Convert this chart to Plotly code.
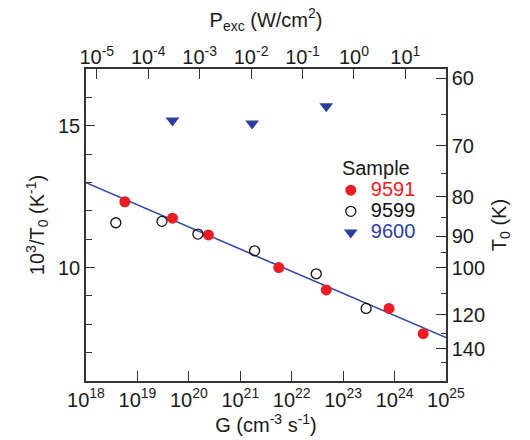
import plotly.graph_objects as go

# ---------------- data ----------------
# Sample 9591 (filled red circles)
g_9591 = [5.7e18, 4.8e19, 2.4e20, 5.6e21, 4.7e22, 7.8e23, 3.6e24]
v_9591 = [12.32, 11.74, 11.15, 10.00, 9.21, 8.56, 7.67]
# Sample 9599 (open black circles)
g_9599 = [3.8e18, 3.0e19, 1.5e20, 1.9e21, 3.0e22, 2.8e23]
v_9599 = [11.58, 11.63, 11.18, 10.59, 9.78, 8.56]
# Sample 9600 (blue down triangles)
g_9600 = [4.8e19, 1.7e21, 4.7e22]
v_9600 = [15.18, 15.08, 15.69]
# fitted line
g_fit = [1e18, 1e25]
v_fit = [12.99, 7.53]

# axis ticks
g_ticks = [1e18, 1e19, 1e20, 1e21, 1e22, 1e23, 1e24, 1e25]
g_tick_exp = ["18", "19", "20", "21", "22", "23", "24", "25"]
p_ticks = [1e-5, 1e-4, 1e-3, 1e-2, 1e-1, 1e0, 1e1]
p_tick_exp = ["-5", "-4", "-3", "-2", "-1", "0", "1"]
p_range_log = [-5.21, 1.79]
t0_major = [60, 70, 80, 90, 100, 120, 140]
t0_minor = [65, 75, 85, 95, 110, 130, 150]
y_range = [6, 17]

FONT = "Liberation Sans, Arial, sans-serif"
RED = "#ec1c24"
BLUE = "#2c3f9e"
LINE = "#3549a8"
AX = "#333333"
TXT = "#1a1a1a"

fig = go.Figure()
fig.add_trace(go.Scatter(x=g_fit, y=v_fit, mode="lines",
                         line=dict(color=LINE, width=1.6),
                         showlegend=False, hoverinfo="skip"))
fig.add_trace(go.Scatter(x=g_9591, y=v_9591, mode="markers",
                         name=f"<span style='font-size:20px;color:{RED}'>9591</span>",
                         marker=dict(symbol="circle", size=11, color=RED)))
fig.add_trace(go.Scatter(x=g_9599, y=v_9599, mode="markers",
                         name="<span style='font-size:20px;color:#111'>9599</span>",
                         marker=dict(symbol="circle-open", size=10, color="#111",
                                     line=dict(width=1.3, color="#111"))))
fig.add_trace(go.Scatter(x=g_9600, y=v_9600, mode="markers",
                         name=f"<span style='font-size:20px;color:{BLUE}'>9600</span>",
                         marker=dict(symbol="triangle-down", size=12, color=BLUE)))
# invisible trace to carry the top / right axes
fig.add_trace(go.Scatter(x=[p_ticks[0]], y=[None], xaxis="x2", yaxis="y2",
                         mode="markers", showlegend=False, hoverinfo="skip"))

tickfont = dict(family=FONT, size=20, color=TXT)
common = dict(showline=True, linecolor=AX, linewidth=1.5, ticks="inside",
              tickcolor=AX, tickwidth=1.3, showgrid=False, zeroline=False,
              tickfont=tickfont, automargin=False)

fig.update_layout(
    width=530, height=440,
    margin=dict(l=86, r=84, t=69, b=59),
    paper_bgcolor="white", plot_bgcolor="white",
    font=dict(family=FONT, color=TXT),
    xaxis=dict(type="log", range=[18, 25], tickmode="array", tickvals=g_ticks,
               ticktext=[f"10<sup>{e}</sup>" for e in g_tick_exp], ticklen=10,
               title=dict(text="G (cm<sup>-3</sup> s<sup>-1</sup>)",
                          font=dict(family=FONT, size=20, color=TXT), standoff=6),
               **common),
    xaxis2=dict(type="log", range=p_range_log, overlaying="x", side="top",
                anchor="y", tickmode="array", tickvals=p_ticks,
                ticktext=[f"10<sup>{e}</sup>" for e in p_tick_exp], ticklen=10,
                ticklabelstandoff=-5,
                title=dict(text="P<sub>exc</sub> (W/cm<sup>2</sup>)",
                           font=dict(family=FONT, size=20, color=TXT), standoff=10),
                **common),
    yaxis=dict(range=y_range, tick0=0, dtick=5, ticklen=9,
               minor=dict(dtick=1, tick0=0, ticks="inside", ticklen=6,
                          tickcolor=AX, tickwidth=1.3),
               title=dict(text="10<sup>3</sup>/T<sub>0</sub> (K<sup>-1</sup>)",
                          font=dict(family=FONT, size=20, color=TXT), standoff=8),
               **common),
    yaxis2=dict(range=y_range, overlaying="y", side="right", anchor="x",
                tickmode="array", tickvals=[1000 / t for t in t0_major],
                ticktext=[str(t) for t in t0_major], ticklen=10,
                minor=dict(tickmode="array", tickvals=[1000 / t for t in t0_minor],
                           ticks="inside", ticklen=5, tickcolor=AX, tickwidth=1.3),
                title=dict(text="T<sub>0</sub> (K)",
                           font=dict(family=FONT, size=20, color=TXT), standoff=8),
                **common),
    legend=dict(x=0.68, y=0.745, xanchor="left", yanchor="top",
                bgcolor="rgba(0,0,0,0)", borderwidth=0,
                font=dict(family=FONT, size=14, color=TXT),
                title=dict(text="Sample", side="top center",
                           font=dict(family=FONT, size=20, color=TXT)),
                tracegroupgap=0),
)

fig.write_html("out.html")
